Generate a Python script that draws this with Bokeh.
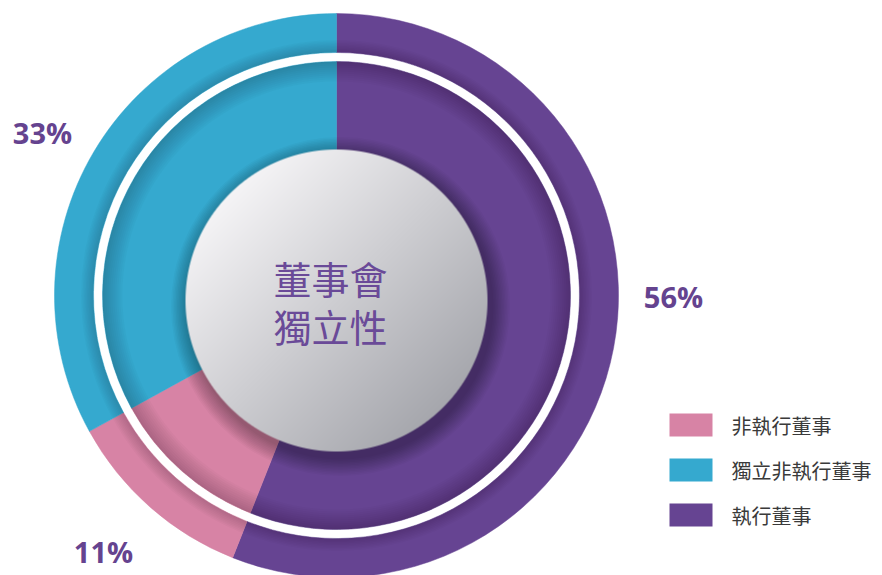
import numpy as np
from bokeh.plotting import figure
from bokeh.models import Range1d
from bokeh.core.properties import value
from bokeh.embed import file_html
from bokeh.resources import INLINE

# ---- data ----
categories = ["非執行董事", "獨立非執行董事", "執行董事"]
shares = [11, 33, 56]
pct_labels = ["11%", "33%", "56%"]
center_lines = ["董事會", "獨立性"]
# clockwise drawing order from 12 o'clock
ring_order = ["執行董事", "非執行董事", "獨立非執行董事"]

palette = {"非執行董事": "#d783a5", "獨立非執行董事": "#35a9cf", "執行董事": "#664492"}
TEXT_PURPLE = "#65438f"

W, H = 882, 575
def Y(s):  # screen y -> data y
    return 575 - s

p = figure(width=W, height=H, x_range=Range1d(0, W), y_range=Range1d(575 - H, 575),
           output_backend="svg", toolbar_location=None, min_border=0)
p.axis.visible = False
p.grid.visible = False
p.outline_line_color = None
p.background_fill_color = "white"
p.border_fill_color = "white"

cx, cy = 336, Y(295)
R_OUT, R_OUT_IN = 282, 243
R_IN_OUT, R_IN_IN = 234, 140

share_of = dict(zip(categories, shares))
total = float(sum(shares))
cum = 0.0
starts, ends, cols = [], [], []
for name in ring_order:
    v = share_of[name]
    a_end = np.pi / 2 - 2 * np.pi * cum / total
    cum += v
    a_start = np.pi / 2 - 2 * np.pi * cum / total
    starts.append(a_start); ends.append(a_end); cols.append(palette[name])

n = len(ring_order)
# outer ring
p.annular_wedge(x=[cx] * n, y=[cy] * n, inner_radius=R_OUT_IN, outer_radius=R_OUT,
                start_angle=starts, end_angle=ends, fill_color=cols, line_color=cols, line_width=0.5)
# inner ring
p.annular_wedge(x=[cx] * n, y=[cy] * n, inner_radius=R_IN_IN, outer_radius=R_IN_OUT,
                start_angle=starts, end_angle=ends, fill_color=cols, line_color=cols, line_width=0.5)

# shading of ring edges next to the white gap
for i in range(8):
    p.annulus(x=cx, y=cy, inner_radius=R_OUT_IN, outer_radius=R_OUT_IN + 2 + i * 1.5,
              fill_color="black", fill_alpha=0.018, line_color=None)
for i in range(10):
    p.annulus(x=cx, y=cy, inner_radius=R_IN_OUT - 2 - i * 2, outer_radius=R_IN_OUT,
              fill_color="black", fill_alpha=0.02, line_color=None)

# center disc with shadow
gx, gy, GR = 336, Y(300), 151
for i in range(12):
    p.circle(x=gx + 4, y=gy - 6, radius=GR + 2 + i * 1.5, fill_color="black",
             fill_alpha=0.028, line_color=None)

N = 2 * GR
ii = np.arange(N) + 0.5 - N / 2
dx, dy = np.meshgrid(ii, ii)  # rows = y (bottom up), cols = x
dist = np.sqrt(dx ** 2 + dy ** 2)
u = np.clip(((dx - dy) / (np.sqrt(2) * GR) + 1) / 2, 0, 1)
light = np.array([245, 244, 246]); dark = np.array([166, 167, 173])
rgb = light[None, None, :] * (1 - u[..., None]) + dark[None, None, :] * u[..., None]
alpha = np.clip(GR - dist + 0.5, 0, 1) * 255
img = np.zeros((N, N), dtype=np.uint32)
view = img.view(dtype=np.uint8).reshape((N, N, 4))
view[..., 0] = rgb[..., 0].astype(np.uint8)
view[..., 1] = rgb[..., 1].astype(np.uint8)
view[..., 2] = rgb[..., 2].astype(np.uint8)
view[..., 3] = alpha.astype(np.uint8)
p.image_rgba(image=[img], x=gx - GR, y=gy - GR, dw=N, dh=N)

# center text
p.text(x=[330, 330], y=[Y(277), Y(325)], text=center_lines,
       text_font=value("Noto Sans CJK TC"), text_font_size="38px",
       text_color="#6a4a98", text_align="center", text_baseline="middle")

# percentage labels (placed outside ring)
lab_x = [103, 42, 673]
lab_y = [Y(551), Y(132), Y(296)]
p.text(x=lab_x, y=lab_y, text=pct_labels, text_font=value("Open Sans"),
       text_font_style="bold", text_font_size="29px", text_color=TEXT_PURPLE,
       text_align="center", text_baseline="middle")

# legend
leg_y = [Y(424.5), Y(469.5), Y(514.5)]
p.rect(x=[690.5] * 3, y=leg_y, width=43, height=23,
       fill_color=[palette[c] for c in categories], line_color=None)
p.text(x=[731] * 3, y=leg_y, text=categories, text_font=value("Noto Sans CJK TC"),
       text_font_size="20px", text_color="#3a3a3a", text_align="left",
       text_baseline="middle")

open("out.html", "w").write(file_html(p, INLINE))
